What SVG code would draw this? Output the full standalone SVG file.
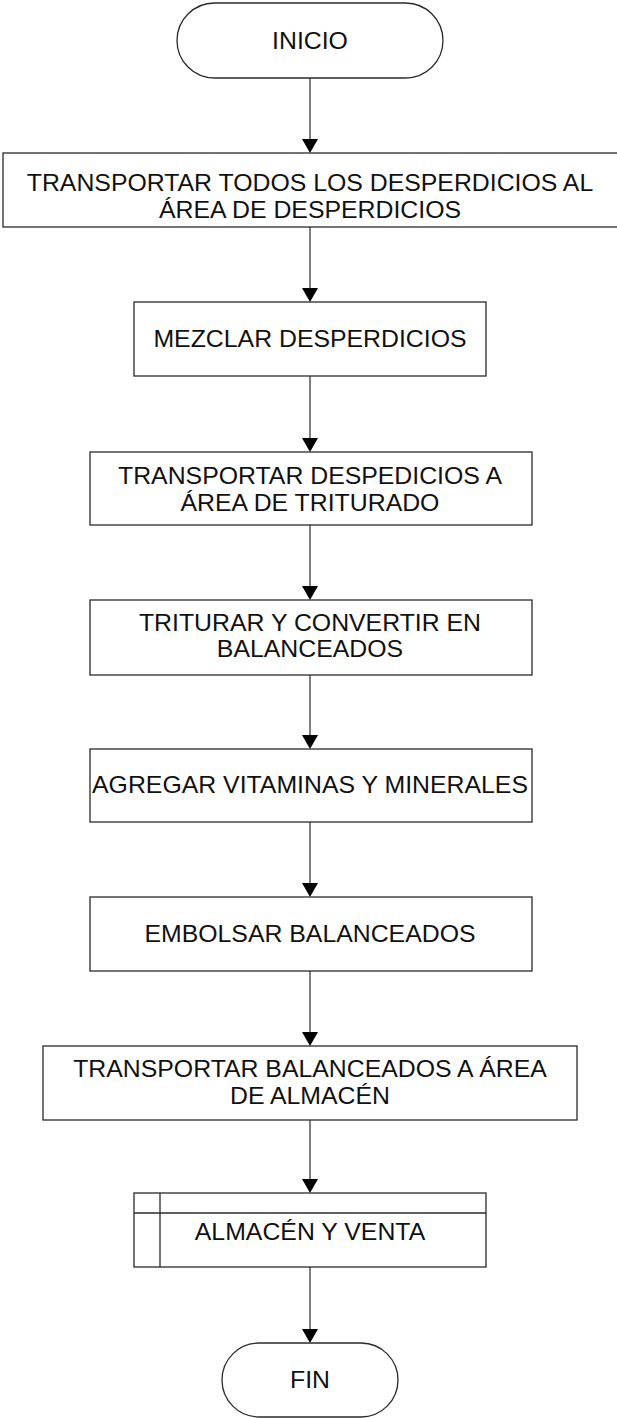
<svg xmlns="http://www.w3.org/2000/svg" width="617" height="1418" viewBox="0 0 617 1418">
<style>
.n{fill:#fff;stroke:#2a2a2a;stroke-width:1.3}
.t{font-family:"Liberation Sans",Arial,sans-serif;font-size:23px;fill:#111;text-anchor:middle;transform:matrix(1.08,0,0,1,-24.8,0)}
.c{stroke:#555;stroke-width:1.5;fill:none}
.h{fill:#000}
</style>
<rect width="617" height="1418" fill="#fff"/>
<g id="connectors">
<line class="c" x1="310" y1="78" x2="310" y2="141"/>
<path class="h" d="M302,139 L318,139 L310,153 Z"/>
<line class="c" x1="310" y1="227" x2="310" y2="290"/>
<path class="h" d="M302,288 L318,288 L310,302 Z"/>
<line class="c" x1="310" y1="376" x2="310" y2="440"/>
<path class="h" d="M302,438 L318,438 L310,452 Z"/>
<line class="c" x1="310" y1="525" x2="310" y2="588"/>
<path class="h" d="M302,586 L318,586 L310,600 Z"/>
<line class="c" x1="310" y1="675" x2="310" y2="737"/>
<path class="h" d="M302,735 L318,735 L310,749 Z"/>
<line class="c" x1="310" y1="822" x2="310" y2="885"/>
<path class="h" d="M302,883 L318,883 L310,897 Z"/>
<line class="c" x1="310" y1="971" x2="310" y2="1034"/>
<path class="h" d="M302,1032 L318,1032 L310,1046 Z"/>
<line class="c" x1="310" y1="1120" x2="310" y2="1181"/>
<path class="h" d="M302,1179 L318,1179 L310,1193 Z"/>
<line class="c" x1="310" y1="1267" x2="310" y2="1331"/>
<path class="h" d="M302,1329 L318,1329 L310,1343 Z"/>
</g>
<g id="inicio">
<rect class="n" x="177" y="3" width="266" height="75" rx="37.5" ry="37.5"/>
<text class="t" x="310" y="49">INICIO</text>
</g>
<g id="transportar-desperdicios">
<rect class="n" x="3" y="153" width="620" height="74"/>
<text class="t" x="310" y="191">TRANSPORTAR TODOS LOS DESPERDICIOS AL</text>
<text class="t" x="310" y="218">ÁREA DE DESPERDICIOS</text>
</g>
<g id="mezclar">
<rect class="n" x="134" y="302" width="352" height="74"/>
<text class="t" x="310" y="347">MEZCLAR DESPERDICIOS</text>
</g>
<g id="transportar-triturado">
<rect class="n" x="90" y="452" width="442" height="73"/>
<text class="t" x="310" y="484">TRANSPORTAR DESPEDICIOS A</text>
<text class="t" x="310" y="511">ÁREA DE TRITURADO</text>
</g>
<g id="triturar">
<rect class="n" x="90" y="600" width="442" height="75"/>
<text class="t" x="310" y="631">TRITURAR Y CONVERTIR EN</text>
<text class="t" x="310" y="657">BALANCEADOS</text>
</g>
<g id="agregar">
<rect class="n" x="90" y="749" width="442" height="73"/>
<text class="t" x="310" y="793">AGREGAR VITAMINAS Y MINERALES</text>
</g>
<g id="embolsar">
<rect class="n" x="90" y="897" width="442" height="74"/>
<text class="t" x="310" y="942">EMBOLSAR BALANCEADOS</text>
</g>
<g id="transportar-almacen">
<rect class="n" x="43" y="1046" width="534" height="74"/>
<text class="t" x="310" y="1077">TRANSPORTAR BALANCEADOS A ÁREA</text>
<text class="t" x="310" y="1104">DE ALMACÉN</text>
</g>
<g id="almacen-venta">
<rect class="n" x="134" y="1193" width="352" height="74"/>
<line class="n" x1="160" y1="1193" x2="160" y2="1267"/>
<line class="n" x1="134" y1="1213" x2="486" y2="1213"/>
<text class="t" x="310" y="1240">ALMACÉN Y VENTA</text>
</g>
<g id="fin">
<rect class="n" x="222" y="1343" width="176" height="74" rx="37" ry="37"/>
<text class="t" x="310" y="1388">FIN</text>
</g>
</svg>
